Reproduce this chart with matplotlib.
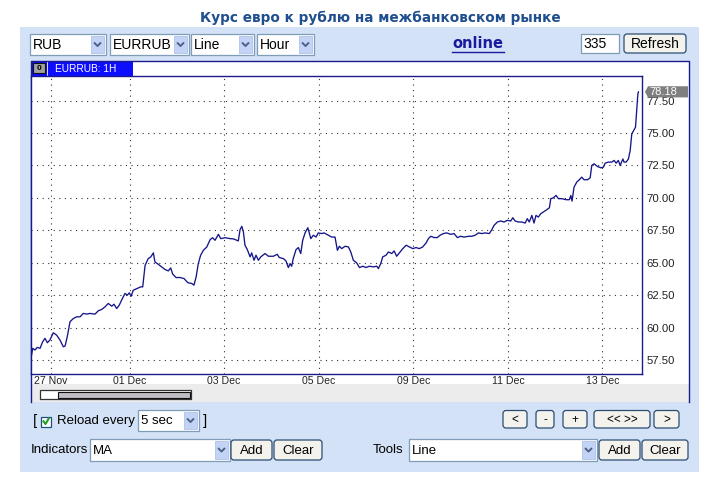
import matplotlib
matplotlib.use("Agg")
import matplotlib.pyplot as plt
from matplotlib.patches import Rectangle, FancyBboxPatch, Polygon
from matplotlib.transforms import blended_transform_factory

plt.rcParams['font.family'] = ['Liberation Sans', 'DejaVu Sans']

# ---------------- data ----------------
title = "Курс евро к рублю на межбанковском рынке"
series_name = "EURRUB: 1H"
tick_hours = [10, 50, 98, 146, 194, 242, 290]
tick_labels = ["27 Nov", "01 Dec", "03 Dec", "05 Dec", "09 Dec", "11 Dec", "13 Dec"]
y_ticks = [57.5, 60.0, 62.5, 65.0, 67.5, 70.0, 72.5, 75.0, 77.5]

hours = [0, 0.9, 2.0, 3.2, 4.6, 5.9, 7.1, 8.3, 9.6, 11.3, 13.0, 14.7, 16.4, 17.3, 18.4,
         19.8, 21.5, 23.2, 24.9, 26.5, 28.3, 29.9, 32.5, 34.2, 35.9, 37.6, 39.2, 41.0,
         42.1, 43.5, 44.8, 46.0, 47.7, 48.9, 49.9, 50.8, 51.9, 53.7, 55.7, 56.7, 57.9,
         59.5, 60.8, 62.1, 62.9, 64.6, 66.3, 68.0, 69.7, 70.9, 71.9, 73.6, 75.6, 77.7,
         78.7, 79.8, 81.6, 82.7, 83.8, 84.9, 86.1, 87.5, 89.2, 90.9, 92.2, 93.4, 95.1,
         96.3, 98.5, 101.0, 103.0, 105.2, 106.1, 107.0, 107.8, 108.6, 109.8, 111.2,
         112.0, 113.2, 114.2, 115.4, 116.6, 118.8, 120.5, 123.0, 125.0, 126.0, 128.1,
         129.4, 130.6, 131.5, 132.3, 133.1, 134.5, 135.7, 136.9, 137.9, 139.1, 140.5,
         142.0, 143.3, 144.7, 145.8, 147.6, 148.7, 150.1, 152.6, 154.3, 155.5, 156.5,
         157.7, 159.4, 161.1, 162.3, 163.6, 165.3, 166.7, 168.4, 170.0, 171.7, 173.8,
         175.5, 176.3, 177.5, 178.5, 180.2, 181.4, 183.1, 184.3, 185.6, 187.3, 188.7,
         190.4, 192.0, 193.8, 195.4, 197.1, 198.8, 200.5, 201.7, 202.9, 204.6, 206.2,
         207.6, 209.3, 211.0, 213.0, 214.7, 216.4, 218.1, 219.8, 222.0, 223.7, 225.4,
         227.1, 228.8, 230.5, 232.6, 233.9, 235.0, 236.7, 238.4, 240.1, 241.8, 243.5,
         244.5, 245.7, 247.4, 249.1, 250.8, 251.9, 252.9, 254.2, 255.3, 256.3, 257.5,
         258.7, 260.0, 261.8, 263.1, 263.8, 265.1, 266.5, 267.7, 269.4, 271.6, 273.2,
         274.0, 274.6, 275.6, 277.0, 278.3, 279.5, 280.7, 282.4, 283.8, 284.6, 285.8,
         287.5, 289.2, 290.5, 291.4, 293.0, 294.8, 295.9, 297.0, 298.1, 299.0, 300.4,
         301.0, 302.0, 303.2, 304.1, 304.9, 306.1, 306.8, 307.5, 308.0, 308.3]

rates = [57.65, 58.40, 58.27, 58.47, 58.40, 58.90, 59.17, 58.83, 59.04, 59.60, 59.42,
         59.04, 58.52, 58.58, 59.30, 60.45, 60.70, 60.83, 60.83, 61.09, 61.04, 61.09,
         61.04, 61.30, 61.40, 61.60, 61.86, 61.65, 61.80, 61.47, 61.73, 62.12, 62.63,
         62.50, 62.68, 62.42, 62.88, 63.00, 63.14, 63.14, 64.80, 65.32, 65.45, 65.76,
         65.06, 64.88, 64.68, 64.48, 64.37, 64.60, 64.13, 63.86, 63.86, 63.78, 63.60,
         63.45, 63.40, 63.27, 63.90, 64.93, 65.58, 65.96, 66.21, 66.78, 66.93, 66.73,
         67.19, 66.86, 66.93, 66.86, 66.83, 66.68, 67.55, 67.81, 67.37, 66.35, 66.01,
         65.45, 65.76, 65.19, 65.58, 65.19, 65.45, 65.71, 65.50, 65.50, 65.65, 65.40,
         65.32, 65.14, 64.63, 64.93, 64.73, 65.32, 66.01, 66.17, 65.71, 66.73, 67.30,
         67.70, 66.86, 67.12, 66.98, 67.30, 67.25, 67.30, 67.19, 66.98, 66.98, 65.96,
         66.27, 66.09, 66.27, 66.22, 65.83, 65.19, 64.99, 64.63, 64.73, 64.63, 64.73,
         64.68, 64.73, 64.55, 64.93, 65.45, 65.58, 65.83, 65.71, 65.91, 65.50, 65.83,
         66.09, 66.35, 66.22, 66.09, 66.17, 66.09, 66.22, 66.52, 66.86, 67.04, 66.94,
         66.94, 67.12, 67.25, 67.30, 67.19, 67.25, 66.94, 67.04, 66.98, 67.04, 67.04,
         67.12, 67.30, 67.25, 67.30, 67.25, 67.55, 67.88, 68.14, 68.22, 68.14, 68.27,
         68.22, 68.47, 68.22, 68.14, 68.14, 68.06, 68.40, 68.14, 68.65, 68.06, 68.65,
         68.52, 68.78, 68.91, 69.09, 69.24, 69.94, 70.01, 70.19, 69.94, 69.94, 69.86,
         69.86, 70.19, 69.75, 70.83, 71.22, 71.40, 71.60, 71.40, 71.40, 71.55, 72.50,
         72.63, 72.42, 72.32, 72.37, 72.68, 72.76, 72.76, 72.89, 72.68, 72.89, 72.50,
         73.00, 72.76, 72.76, 73.00, 73.65, 74.93, 75.25, 75.45, 76.98, 78.00, 78.18]

# ---------------- figure ----------------
W, H = 716, 483
fig = plt.figure(figsize=(W / 100, H / 100), dpi=100)
fig.patch.set_facecolor('white')

ov = fig.add_axes([0, 0, 1, 1], zorder=0)
ov.set_xlim(0, W)
ov.set_ylim(H, 0)
ov.axis('off')

NAVY = '#1a1a8c'
UI_FS = 9


def rect(x0, y0, x1, y1, fc, ec='none', lw=1.0, z=1):
    ov.add_patch(Rectangle((x0, y0), x1 - x0, y1 - y0, facecolor=fc,
                           edgecolor=ec, linewidth=lw, zorder=z))


def chevron(cx, cy, z=4):
    ov.plot([cx - 3, cx, cx + 3], [cy - 1.5, cy + 1.5, cy - 1.5],
            color='#4d6185', lw=1.4, zorder=z, solid_capstyle='round')


def select(x0, x1, y0, y1, label, fs=UI_FS):
    rect(x0, y0, x1, y1, 'white', '#7f9db9', 0.9, z=2)
    rect(x1 - 15, y0 + 2, x1 - 2, y1 - 2, '#c3d3f5', '#b0c2ec', 0.6, z=3)
    chevron(x1 - 8.5, (y0 + y1) / 2)
    ov.text(x0 + 3, (y0 + y1) / 2 + 0.5, label, fontsize=fs, va='center',
            ha='left', color='black', zorder=4)


def button(x0, x1, y0, y1, label, fs=UI_FS):
    ov.add_patch(FancyBboxPatch((x0, y0), x1 - x0, y1 - y0,
                                boxstyle='round,pad=0,rounding_size=3',
                                facecolor='#f3f2ec', edgecolor='#2c4c72',
                                linewidth=0.9, zorder=2))
    ov.text((x0 + x1) / 2, (y0 + y1) / 2 + 0.5, label, fontsize=fs,
            ha='center', va='center', color='black', zorder=4)


# title
ov.text(380, 18, title, fontsize=9.8, fontweight='bold', ha='center',
        va='center', color='#1f4f8f', family=['DejaVu Sans'])

# light-blue panel
rect(20, 27, 699, 471.5, '#d3e2f6', z=0.5)

# top controls
select(30, 106, 34, 55, "RUB", fs=10)
select(110, 189, 34, 55, "EURRUB", fs=10)
select(191, 254, 34, 55, "Line", fs=10)
select(257, 314, 34, 55, "Hour", fs=10)
ov.text(478, 43.5, "online", fontsize=10.5, fontweight='bold', ha='center',
        va='center', color='#1a1a9e', family=['DejaVu Sans'])
ov.plot([452, 504], [51.5, 51.5], color='#1a1a9e', lw=1.0)
rect(580.5, 34, 619, 53, 'white', '#7f9db9', 0.9, z=2)
ov.text(583, 44, "335", fontsize=10, ha='left', va='center')
button(624, 686, 34, 53, "Refresh", fs=10)

# chart frame
rect(30.5, 61, 689, 401.5, 'white', z=1)
rect(31, 384, 688.5, 401.5, '#ececec', z=1.2)
ov.plot([30.5, 30.5, 689, 689], [401.5, 61, 61, 401.5], color=NAVY, lw=1.0, zorder=3)
rect(30.5, 61, 133, 75.5, '#0d0dff', z=2)
rect(33, 63, 45, 73, '#a0a0a0', '#111111', 0.8, z=3)
ov.text(39, 68.3, "0", fontsize=6, ha='center', va='center', color='black',
        fontweight='bold', zorder=4)
ov.plot([47, 47], [62, 75], color='white', lw=0.6, zorder=4)
ov.text(55, 68.5, series_name, fontsize=7.3, ha='left', va='center',
        color='white', zorder=4)

# scrollbar
rect(40, 390, 191, 399, 'white', '#333333', 0.9, z=2)
rect(58, 391.5, 189.5, 397.5, '#c0bcc4', '#111111', 0.8, z=3)

# reload row
ov.text(33, 421, "[", fontsize=11, ha='left', va='center')
rect(41, 416.5, 51, 426.5, 'white', '#1c5180', 0.9, z=2)
ov.plot([43.5, 45.5, 48.8], [421.3, 424, 418.5], color='#21a121', lw=1.5, zorder=4)
ov.text(57, 421, "Reload every", fontsize=9.5, ha='left', va='center')
select(138, 199, 410, 431, "5 sec", fs=9.5)
ov.text(203, 421, "]", fontsize=11, ha='left', va='center')

# navigation buttons
for x0, x1, lab in [(503, 527, "<"), (536, 554, "-"), (563, 587, "+"),
                    (594, 650, "<< >>"), (654, 679, ">")]:
    button(x0, x1, 410.5, 428, lab, fs=8.5)

# indicators / tools row
ov.text(31, 450, "Indicators", fontsize=9.5, ha='left', va='center')
select(90, 230, 439, 461, "MA", fs=9.5)
button(231, 272, 440, 460, "Add", fs=9.5)
button(274, 322, 440, 460, "Clear", fs=9.5)
ov.text(373, 450, "Tools", fontsize=9.5, ha='left', va='center')
select(409, 597, 439, 461, "Line", fs=9.5)
button(599, 640, 440, 460, "Add", fs=9.5)
button(642, 688, 440, 460, "Clear", fs=9.5)

# ---------------- chart axes ----------------
left, right, top, bottom = 31, 642, 76, 374
ax = fig.add_axes([left / W, 1 - bottom / H, (right - left) / W, (bottom - top) / H],
                  zorder=2)
ax.set_facecolor('white')
ax.plot(hours, rates, color='#15158a', lw=0.95, zorder=3)
ax.set_xlim(0, 310.1)
ax.set_ylim(56.42, 79.40)
ax.set_xticks(tick_hours, tick_labels)
ax.set_yticks(y_ticks, [f"{v:.2f}" for v in y_ticks])
ax.yaxis.tick_right()
ax.tick_params(axis='both', length=0, colors='#222222')
ax.tick_params(axis='x', labelsize=7.6, pad=1.2)
ax.tick_params(axis='y', labelsize=8.2, pad=3.5)
ax.grid(True, color='#333333', linestyle=(0, (1, 4)), linewidth=0.8)
ax.set_axisbelow(True)
for s in ax.spines.values():
    s.set_color(NAVY)
    s.set_linewidth(1.0)

# last-value badge
tr = blended_transform_factory(ax.transAxes, ax.transData)
last = rates[-1]
hh = 0.43
badge = Polygon([(1.0049, last), (1.0098, last + hh), (1.0753, last + hh),
                 (1.0753, last - hh), (1.0098, last - hh)], closed=True,
                facecolor='#7f7f7f', edgecolor='none', transform=tr,
                clip_on=False, zorder=5)
ax.add_patch(badge)
ax.text(1.012, last - 0.02, f"{last:.2f}", transform=tr, fontsize=8,
        color='white', ha='left', va='center', zorder=6, clip_on=False)

fig.savefig("out.png", dpi=100, facecolor='white')
